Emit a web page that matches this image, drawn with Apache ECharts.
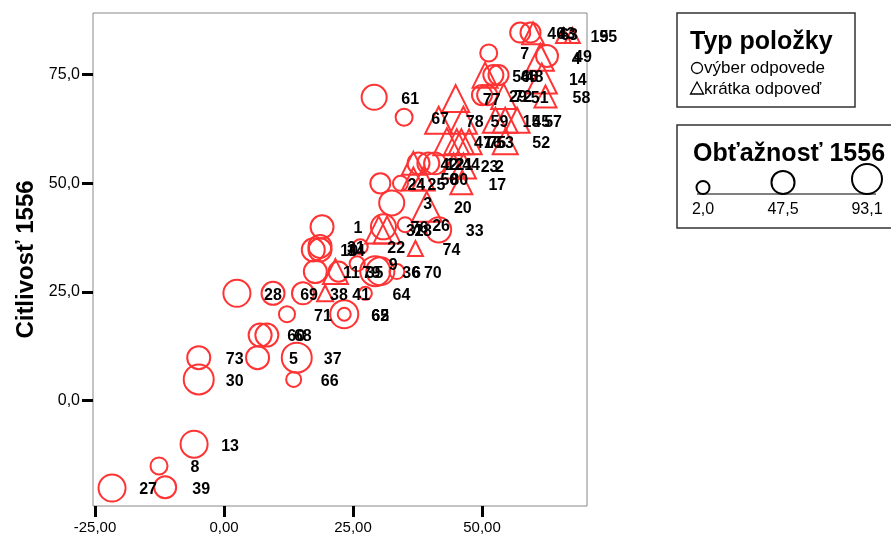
<!DOCTYPE html>
<html>
<head>
<meta charset="utf-8">
<script src="https://cdn.jsdelivr.net/npm/echarts@6/dist/echarts.min.js"></script>
<style>
html, body { margin: 0; background: #fff; }
#chart { width: 891px; height: 536px; }
</style>
</head>
<body>
<div id="chart"></div>
<script>
// cislo polozky, obtaznost (x), citlivost (y), obtaznost 1556 (velkost), typ polozky
const itemIds = [27, 39, 8, 13, 30, 73, 66, 5, 37, 60, 68, 71, 62, 65, 28, 69, 38, 41, 64, 11,
  79, 35, 9, 36, 6, 70, 10, 34, 31, 22, 74, 1, 32, 76, 18, 26, 33, 3, 20, 24,
  25, 50, 80, 17, 42, 12, 21, 44, 23, 2, 47, 16, 75, 52, 67, 78, 59, 15, 45, 57,
  61, 77, 29, 72, 51, 53, 58, 56, 46, 48, 14, 7, 4, 49, 40, 43, 63, 19, 55]
const xValues = [-21.7, -11.4, -12.6, -5.8, -4.9, -4.9, 13.5, 6.5, 14.1, 7.0, 8.3, 12.2, 23.3, 23.3, 2.5, 9.5, 15.3, 19.6, 27.4, 17.7,
  21.6, 22.2, 25.8, 29.3, 30.3, 33.5, 17.3, 18.6, 18.6, 26.4, 37.1, 19.0, 30.0, 30.9, 31.6, 35.1, 41.6, 32.5, 39.3, 30.3,
  34.2, 36.7, 38.6, 46.0, 36.7, 37.7, 39.6, 40.9, 44.5, 46.4, 43.2, 45.1, 46.0, 54.5, 34.9, 41.6, 46.4, 52.6, 54.5, 56.8,
  29.1, 44.9, 50.0, 51.0, 54.2, 47.5, 62.3, 50.6, 52.2, 53.2, 61.6, 51.3, 61.3, 62.6, 57.4, 59.4, 59.9, 65.8, 67.5]
const yValues = [-20.1, -19.9, -15.0, -10.0, 4.9, 9.9, 4.9, 9.9, 9.9, 15.1, 15.1, 19.9, 19.9, 19.9, 24.7, 24.7, 24.7, 24.7, 24.7, 29.7,
  29.7, 29.7, 31.5, 29.8, 29.8, 29.7, 34.7, 34.7, 35.5, 35.4, 35.0, 40.0, 39.3, 40.0, 39.3, 40.5, 39.3, 45.5, 44.6, 50.0,
  50.0, 51.0, 51.0, 50.0, 54.6, 54.6, 54.6, 54.6, 54.0, 54.0, 59.6, 59.6, 59.6, 59.6, 65.2, 64.5, 64.5, 64.5, 64.5, 64.5,
  69.8, 69.5, 70.3, 70.3, 70.0, 59.6, 70.0, 74.9, 74.9, 74.9, 74.1, 80.0, 79.0, 79.3, 84.7, 84.7, 84.5, 84.0, 84.0]
const sizeValues = [72, 41, 17, 72, 93, 47, 9, 47, 93, 47, 47, 13, 79, 2, 72, 47, 41, 13, 2, 47,
  59, 31, 9, 93, 79, 9, 47, 47, 47, 9, 9, 47, 72, 59, 72, 9, 59, 59, 93, 31,
  9, 47, 47, 41, 47, 41, 41, 41, 59, 59, 72, 59, 59, 59, 17, 72, 72, 59, 59, 59,
  59, 72, 31, 31, 59, 59, 41, 59, 31, 31, 93, 17, 72, 41, 31, 31, 41, 9, 9]
const itemTypes = ['c', 'c', 'c', 'c', 'c', 'c', 'c', 'c', 'c', 'c', 'c', 'c', 'c', 'c', 'c', 'c', 'c', 't', 'c', 'c',
  't', 'c', 'c', 'c', 'c', 'c', 'c', 'c', 'c', 'c', 't', 'c', 't', 'c', 't', 'c', 'c', 'c', 't', 'c',
  'c', 't', 't', 't', 't', 'c', 'c', 'c', 't', 't', 't', 't', 't', 't', 'c', 't', 't', 't', 't', 't',
  'c', 't', 'c', 'c', 't', 't', 't', 't', 'c', 'c', 't', 'c', 't', 'c', 'c', 'c', 't', 't', 't']

const xTicks = [-25, 0, 25, 50]
const yTicks = [0, 25, 50, 75]
const sizeLegend = [2.0, 47.5, 93.1]

const red = '#ff3333'
const font = 'Arial, "Liberation Sans", sans-serif'

// plocha znacky rastie linearne s obtaznostou
function markSize (v) {
  return Math.sqrt(153 + 8.02 * v)
}

function comma (v, d) {
  return v.toFixed(d).replace('.', ',')
}

function pointsOf (type) {
  let out = []
  for (var i = 0; i < itemIds.length; i++) {
    if (itemTypes[i] !== type) continue
    out.push({ name: String(itemIds[i]), value: [xValues[i], yValues[i], sizeValues[i]] })
  }
  return out
}

function seriesOf (type, symbol) {
  return {
    type: 'scatter',
    symbol: symbol,
    symbolSize: function (val) { return markSize(val[2]) },
    data: pointsOf(type),
    itemStyle: { color: 'rgba(0,0,0,0)', borderColor: red, borderWidth: 2, opacity: 1 },
    label: {
      show: true,
      position: 'inside',
      offset: [36, 2],
      formatter: '{b}',
      color: '#000',
      fontFamily: font,
      fontWeight: 'bold',
      fontSize: 16
    },
    emphasis: { disabled: true },
    animation: false
  }
}

const legendX = [703, 783, 867]
let legendGraphics = [
  { type: 'rect', shape: { x: 677, y: 13, width: 178, height: 94 }, style: { fill: '#fff', stroke: '#333', lineWidth: 1.5 } },
  { type: 'text', x: 690, y: 42, style: { text: 'Typ položky', font: 'bold 25px ' + font, fill: '#000', textVerticalAlign: 'middle' } },
  { type: 'circle', shape: { cx: 697, cy: 68, r: 5.5 }, style: { fill: 'none', stroke: '#000', lineWidth: 1.3 } },
  { type: 'text', x: 704, y: 68, style: { text: 'výber odpovede', font: '17px ' + font, fill: '#000', textVerticalAlign: 'middle' } },
  { type: 'polygon', shape: { points: [[697, 82], [703.5, 94], [690.5, 94]] }, style: { fill: 'none', stroke: '#000', lineWidth: 1.3 } },
  { type: 'text', x: 704, y: 89, style: { text: 'krátka odpoveď', font: '17px ' + font, fill: '#000', textVerticalAlign: 'middle' } },
  { type: 'rect', shape: { x: 677, y: 125, width: 240, height: 103 }, style: { fill: '#fff', stroke: '#333', lineWidth: 1.5 } },
  { type: 'text', x: 693, y: 154, style: { text: 'Obťažnosť 1556', font: 'bold 25px ' + font, fill: '#000', textVerticalAlign: 'middle' } },
  { type: 'line', shape: { x1: 697, y1: 194, x2: 876, y2: 194 }, style: { stroke: '#000', lineWidth: 1 } }
]
sizeLegend.forEach(function (v, i) {
  let r = markSize(v) / 2
  legendGraphics.push({ type: 'circle', shape: { cx: legendX[i], cy: 194 - r, r: r }, style: { fill: 'none', stroke: '#000', lineWidth: 2 } })
  legendGraphics.push({ type: 'text', x: legendX[i], y: 210, style: { text: comma(v, 1), font: '16px ' + font, fill: '#000', textAlign: 'center', textVerticalAlign: 'middle' } })
})

const myCharts = echarts.init(document.getElementById('chart'), null, { renderer: 'canvas' })

myCharts.setOption({
  backgroundColor: '#fff',
  animation: false,
  grid: { left: 93, top: 13, width: 494, height: 493, show: true, borderColor: '#888', borderWidth: 1, backgroundColor: '#fff' },
  xAxis: {
    type: 'value',
    min: -25.39,
    max: 70.35,
    axisLine: { show: false, onZero: false },
    splitLine: { show: false },
    axisTick: { show: true, length: 11, lineStyle: { color: '#000', width: 3 }, customValues: xTicks },
    axisLabel: { customValues: xTicks, formatter: function (v) { return comma(v, 2) }, color: '#000', fontFamily: font, fontSize: 15, margin: 14 }
  },
  yAxis: {
    type: 'value',
    min: -24.22,
    max: 89.19,
    name: 'Citlivosť 1556',
    nameLocation: 'middle',
    nameGap: 53,
    nameTextStyle: { color: '#000', fontFamily: font, fontWeight: 'bold', fontSize: 24 },
    axisLine: { show: false, onZero: false },
    splitLine: { show: false },
    axisTick: { show: true, length: 11, lineStyle: { color: '#000', width: 3 }, customValues: yTicks },
    axisLabel: { customValues: yTicks, formatter: function (v) { return comma(v, 1) }, color: '#000', fontFamily: font, fontSize: 16, margin: 13 }
  },
  series: [seriesOf('c', 'circle'), seriesOf('t', 'triangle')],
  graphic: legendGraphics
})
</script>
</body>
</html>
